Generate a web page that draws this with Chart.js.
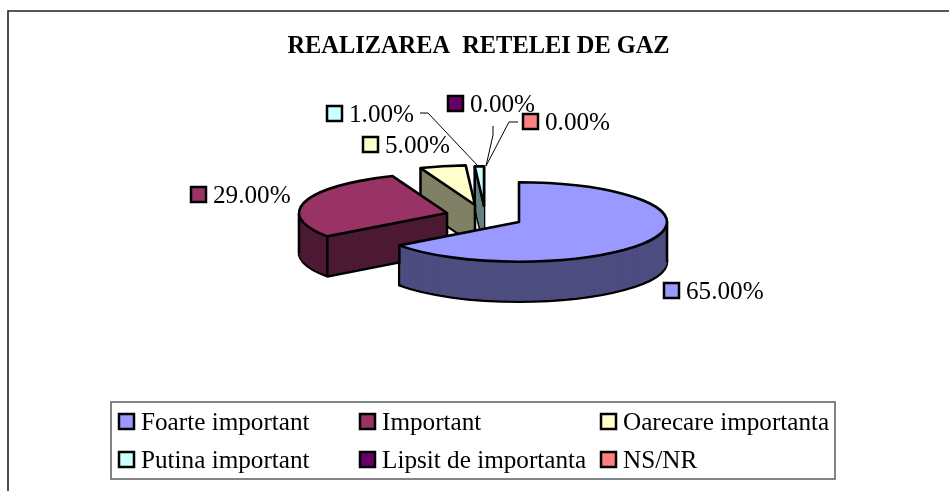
<!DOCTYPE html>
<html>
<head>
<meta charset="utf-8">
<style>html,body{margin:0;padding:0;background:#fff}canvas{display:block}</style>
<script src="https://cdn.jsdelivr.net/npm/chart.js@4/dist/chart.umd.min.js"></script>
</head>
<body>
<canvas id="c" width="949" height="491"></canvas>
<script>
const titleText = "REALIZAREA  RETELEI DE GAZ";
const categories = ["Foarte important", "Important", "Oarecare importanta", "Putina important", "Lipsit de importanta", "NS/NR"];
const shares = [65, 29, 5, 1, 0, 0];
const topColors = ["#9999FF", "#993366", "#FFFFCC", "#CCFFFF", "#660066", "#FF8080"];
const sideColors = ["#4D4D80", "#4D1A33", "#808066", "#668080", "#330033", "#804040"];

const TILT = 40 / 149, DEPTH = 40;
const EXPLODE = [[0, 0], [-72, -9], [-44, -17], [-35, -16], [0, 0], [0, 0]];
const FONT = '"Liberation Serif","Times New Roman",serif';
const SERIF = '25.2px ' + FONT;
const LABEL_AT = [[664, 283], [191, 187], [363, 137], [327, 106], [448, 96], [523, 114]];
const LEADERS = [null, null, null,
  [[420, 113], [428, 113], [478, 166]],
  [[493, 126], [493, 135], [486, 166]],
  [[518, 122], [509, 122], [486, 166]]];
const LEGEND_BOX = [111, 402, 724, 77];
const LEGEND_COLS = [119, 360, 601];
const LEGEND_ROWS = [414, 452];

function sector(ctx, x, y, rx, ry, a0, a1) {
  ctx.beginPath();
  ctx.moveTo(x, y);
  ctx.ellipse(x, y, rx, ry, 0, a0, a1);
  ctx.closePath();
}
function swatch(ctx, x, y, color) {
  ctx.fillStyle = color;
  ctx.strokeStyle = '#000';
  ctx.lineWidth = 2.5;
  ctx.fillRect(x, y, 15, 15);
  ctx.strokeRect(x, y, 15, 15);
}
const pie3d = {
  id: 'pie3d',
  beforeDatasetsDraw(chart) {
    const ctx = chart.ctx;
    const arcs = chart.getDatasetMeta(0).data;
    ctx.save();
    ctx.lineJoin = 'round';
    [3, 2, 1, 0].forEach(i => {
      const arc = arcs[i];
      const rx = arc.outerRadius, ry = rx * TILT;
      const x = arc.x + EXPLODE[i][0], y = arc.y + EXPLODE[i][1];
      const a0 = arc.startAngle, a1 = arc.endAngle;
      ctx.lineWidth = 2.6;
      ctx.strokeStyle = '#000';
      // underside
      ctx.fillStyle = sideColors[i];
      sector(ctx, x, y + DEPTH, rx, ry, a0, a1);
      ctx.fill(); ctx.stroke();
      // walls
      for (let d = DEPTH - 1; d > 0; d--) {
        sector(ctx, x, y + d, rx, ry, a0, a1);
        ctx.fill();
      }
      // vertical silhouette edges: leftmost, rightmost and front corners
      const at = a => [x + rx * Math.cos(a), y + ry * Math.sin(a)];
      const outline = [[x, y], at(a0), at(a1)];
      [0, Math.PI, 2 * Math.PI].forEach(a => { if (a > a0 && a < a1) outline.push(at(a)); });
      const byX = outline.slice().sort((p, q) => p[0] - q[0]);
      const verts = [byX[0], byX[byX.length - 1]];
      if (Math.sin(a0) > 0) verts.push(at(a0));
      if (Math.sin(a1) > 0) verts.push(at(a1));
      ctx.beginPath();
      verts.forEach(v => { ctx.moveTo(v[0], v[1]); ctx.lineTo(v[0], v[1] + DEPTH); });
      ctx.stroke();
      // top face
      ctx.fillStyle = topColors[i];
      sector(ctx, x, y, rx, ry, a0, a1);
      ctx.fill(); ctx.stroke();
    });
    ctx.restore();
    return false;
  },
  afterDraw(chart) {
    const ctx = chart.ctx;
    ctx.save();
    // outer frame (open at the right and the bottom)
    ctx.strokeStyle = '#222';
    ctx.lineWidth = 1.6;
    ctx.beginPath();
    ctx.moveTo(8, 491); ctx.lineTo(8, 11); ctx.lineTo(949, 11);
    ctx.stroke();
    // title
    ctx.fillStyle = '#000';
    ctx.textBaseline = 'alphabetic';
    ctx.textAlign = 'center';
    ctx.font = 'bold 24.4px ' + FONT;
    ctx.fillText(titleText, 478.5, 53);
    ctx.textAlign = 'left';
    // data labels
    ctx.font = SERIF;
    shares.forEach((v, i) => {
      const [sx, sy] = LABEL_AT[i];
      swatch(ctx, sx, sy, topColors[i]);
      ctx.fillStyle = '#000';
      ctx.fillText(v.toFixed(2) + '%', sx + 22, sy + 16);
      const L = LEADERS[i];
      if (L) {
        ctx.strokeStyle = '#000'; ctx.lineWidth = 1;
        ctx.beginPath();
        L.forEach((p, k) => k ? ctx.lineTo(p[0], p[1]) : ctx.moveTo(p[0], p[1]));
        ctx.stroke();
      }
    });
    // legend
    ctx.strokeStyle = '#666'; ctx.lineWidth = 1.6;
    ctx.strokeRect(LEGEND_BOX[0], LEGEND_BOX[1], LEGEND_BOX[2], LEGEND_BOX[3]);
    categories.forEach((name, i) => {
      const cx = LEGEND_COLS[i % 3], cy = LEGEND_ROWS[Math.floor(i / 3)];
      swatch(ctx, cx, cy, topColors[i]);
      ctx.fillStyle = '#000';
      ctx.fillText(name, cx + 22, cy + 16);
    });
    ctx.restore();
  }
};
new Chart(document.getElementById('c'), {
  type: 'pie',
  data: {
    labels: categories,
    datasets: [{ data: shares, backgroundColor: topColors, borderColor: '#000', borderWidth: 2 }]
  },
  options: {
    responsive: false,
    animation: false,
    events: [],
    layout: { padding: { left: 370, right: 281, top: 73, bottom: 120 } },
    plugins: { legend: { display: false }, title: { display: false }, tooltip: { enabled: false } }
  },
  plugins: [pie3d]
});
</script>
</body>
</html>
